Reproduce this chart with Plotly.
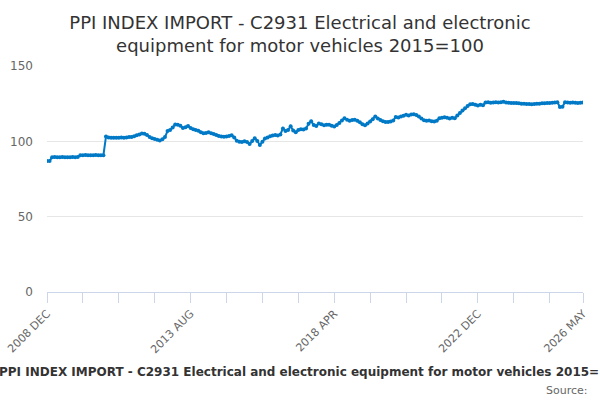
import plotly.graph_objects as go

MONTHS = ["JAN", "FEB", "MAR", "APR", "MAY", "JUN",
          "JUL", "AUG", "SEP", "OCT", "NOV", "DEC"]

# monthly periods, 2008 DEC .. 2026 MAY
periods = ["2008 DEC"] + [f"{y} {m}" for y in range(2009, 2027) for m in MONTHS]
periods = periods[:periods.index("2026 MAY") + 1]

values = [
    87.0, 87.0,
    89.5, 89.6, 89.5, 89.5, 89.6, 89.5, 89.5, 89.5, 89.6, 89.5, 89.6,
    90.8, 90.8, 90.9, 90.8, 90.8, 90.8, 90.9, 90.8, 90.8, 90.8,
    103.2,
    102.5, 102.3, 102.4, 102.3, 102.4, 102.5, 102.4, 102.6, 102.8, 102.9,
    103.4, 104.0, 104.6, 105.2, 105.0,
    104.2, 102.8, 102.0, 101.6, 101.0, 100.6, 101.4, 102.8,
    106.8, 107.6, 109.2, 111.2, 111.0,
    110.4, 108.8, 109.4, 110.2, 108.8, 108.0,
    107.6, 107.0, 106.0, 105.4, 105.6, 106.0, 105.4, 104.8,
    104.2, 103.6, 103.2, 103.0, 103.2, 103.6, 104.0, 102.6,
    100.4, 99.8, 99.6, 100.0, 99.6, 98.2, 100.2,
    102.0, 100.2, 97.6, 99.8, 101.8,
    102.6, 103.4, 103.8, 104.2, 103.8, 104.6,
    108.6, 106.8, 107.6, 110.0, 107.2, 106.0,
    107.6, 108.0, 107.8, 108.6,
    111.6, 113.4, 110.8, 110.2, 111.8, 111.4, 110.6,
    111.0, 111.0, 110.4, 109.8, 110.8, 112.2, 113.8, 115.4,
    114.4, 113.6, 114.2, 114.4, 113.6, 112.6, 111.4, 110.6, 111.8,
    113.2, 114.6, 116.4, 115.2, 114.2, 113.4,
    112.8, 112.8, 113.2, 113.8, 116.2, 115.8,
    116.4, 117.0, 117.6, 117.2, 117.8, 118.0, 117.4,
    116.4, 115.2, 114.0, 113.6, 113.8, 113.4, 113.2, 113.6,
    115.4, 115.6, 116.0, 115.6, 115.2, 115.6, 115.4, 117.2,
    118.8, 120.4, 122.0, 123.4, 124.6, 124.8,
    124.2, 123.8, 124.2, 124.0,
    125.8, 126.0, 125.6, 125.8, 126.0, 125.8, 126.0, 126.2, 125.8, 125.6,
    125.5, 125.4, 125.4, 125.2, 125.0, 125.0, 124.8, 124.8, 124.6, 124.8,
    125.0, 125.0, 125.2, 125.3, 125.4, 125.5, 125.6, 125.8, 126.0,
    122.8, 123.0, 126.0, 125.8, 125.6, 125.8, 125.6, 125.4, 125.6, 125.8,
]
values = values[:len(periods)]

label_periods = ["2008 DEC", "2013 AUG", "2018 APR", "2022 DEC", "2026 MAY"]
y_ticks = [0, 50, 100, 150]

title = ("PPI INDEX IMPORT - C2931 Electrical and electronic<br>"
         "equipment for motor vehicles 2015=100")
series_name = "PPI INDEX IMPORT - C2931 Electrical and electronic equipment for motor vehicles 2015=100"

BLUE = "#0079c6"
FONT = "DejaVu Sans"

# plot area in pixels
L, R, T, B = 47, 583, 66, 292
pw, ph = R - L, B - T

x = list(range(len(periods)))
fig = go.Figure()
fig.add_trace(go.Scatter(
    x=x, y=values, mode="lines+markers", name=series_name,
    line=dict(color=BLUE, width=2),
    marker=dict(color=BLUE, size=4),
    hovertext=periods,
))

fig.update_layout(
    width=600, height=400,
    paper_bgcolor="white", plot_bgcolor="white",
    margin=dict(l=L, r=600 - R, t=T, b=400 - B),
    showlegend=False,
    font=dict(family=FONT, color="#666666", size=11),
    title=dict(text=title, x=0.5, xref="container", xanchor="center",
               y=1 - 29 / 400, yanchor="middle",
               font=dict(family=FONT, size=18, color="#333333")),
)

fig.update_xaxes(
    range=[0, len(periods) - 1],
    tickmode="array",
    tickvals=[periods.index(p) for p in label_periods],
    ticktext=label_periods,
    tickangle=-45,
    ticks="outside", ticklen=10, tickcolor="#ccd6eb",
    minor=dict(tickmode="array", tickvals=list(range(0, len(periods), 14)),
               ticks="outside", ticklen=10, tickcolor="#ccd6eb", showgrid=False),
    showline=True, linecolor="#ccd6eb", linewidth=1,
    showgrid=False, zeroline=False, automargin=False,
    tickfont=dict(size=11, color="#666666"),
)
fig.update_yaxes(
    range=[0, 150],
    tickvals=y_ticks,
    showgrid=True, gridcolor="#e6e6e6", gridwidth=1,
    zeroline=False, showline=False, automargin=False,
    ticks="", ticklabelstandoff=13,
    tickfont=dict(size=12, color="#666666"),
)

fig.add_annotation(
    text=f"<b>{series_name}</b>", xref="paper", yref="paper",
    x=(311 - L) / pw, y=-(372 - B) / ph, xanchor="center", yanchor="middle",
    showarrow=False, font=dict(family=FONT, size=12, color="#333333"),
)
fig.add_annotation(
    text="Source:", xref="paper", yref="paper",
    x=(590 - L) / pw, y=-(390 - B) / ph, xanchor="right", yanchor="middle",
    showarrow=False, font=dict(family=FONT, size=11, color="#666666"),
)

# drop the default page margin so the chart sits at the window corner
fig.write_html("out.html", config={"displayModeBar": False},
               post_script="document.body.style.margin='0px';")
